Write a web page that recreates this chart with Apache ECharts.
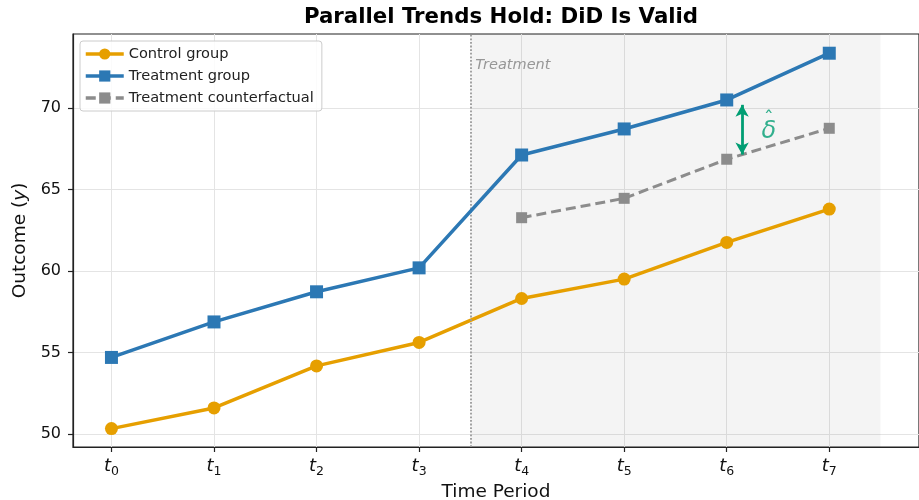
<!DOCTYPE html>
<html>
<head>
<meta charset="utf-8">
<script src="https://cdn.jsdelivr.net/npm/echarts@6/dist/echarts.min.js"></script>
<style>html,body{margin:0;padding:0;background:#fff;}#c{width:919px;height:500px;}</style>
</head>
<body>
<div id="c"></div>
<script>
// ---- data ----
const periods = [0, 1, 2, 3, 4, 5, 6, 7];
const periodSubscripts = ['0', '1', '2', '3', '4', '5', '6', '7'];
const control = [50.33, 51.60, 54.18, 55.62, 58.32, 59.51, 61.76, 63.81];
const treatment = [54.70, 56.88, 58.73, 60.20, 67.13, 68.73, 70.51, 73.38];
const counterfactual = [null, null, null, null, 63.28, 64.47, 66.87, 68.77];
const yTicks = [50, 55, 60, 65, 70];
const treatmentStart = 3.5;
const postEnd = 7.5;
const xRange = [-0.375, 7.875];
const yRange = [49.2, 74.56];
const deltaPeriod = 6;
const deltaOffset = 0.15;

const FONT = 'DejaVu Sans';
const cA = '#E69F00', cB = '#2c78b4', cC = '#8c8c8c', cG = '#009E73';

const ctrlData = periods.map((p, i) => [p, control[i]]);
const trtData = periods.map((p, i) => [p, treatment[i]]);
const cfData = periods.map((p, i) => [p, counterfactual[i]]).filter(d => d[1] !== null);

// arrow for delta
const di = periods.indexOf(deltaPeriod);
const arrowX = deltaPeriod + deltaOffset;
const arrowBottom = counterfactual[di] + deltaOffset * (counterfactual[di + 1] - counterfactual[di]);
const arrowTop = treatment[di] - 0.3;

const chart = echarts.init(document.getElementById('c'), null, {renderer: 'canvas'});
chart.setOption({
  animation: false,
  backgroundColor: '#fff',
  textStyle: {fontFamily: FONT},
  title: {
    text: 'Parallel Trends Hold: DiD Is Valid',
    left: 496, textAlign: 'center', top: 2,
    textStyle: {fontFamily: FONT, fontWeight: 'bold', fontSize: 21.3, color: '#000'}
  },
  legend: {
    orient: 'vertical', left: 80, top: 41,
    padding: [5, 8, 5, 4],
    itemWidth: 38, itemHeight: 14, itemGap: 6,
    backgroundColor: 'rgba(255,255,255,0.85)',
    borderColor: '#cccccc', borderWidth: 1, borderRadius: 3,
    lineStyle: {width: 3.5},
    textStyle: {fontFamily: FONT, fontSize: 14.6, color: '#222', lineHeight: 16},
    data: ['Control group', 'Treatment group', 'Treatment counterfactual']
  },
  grid: {left: 73, top: 34, width: 846, bottom: 53, outerBoundsMode: 'none', containLabel: false,
         show: true, borderColor: '#222', borderWidth: 1.2, backgroundColor: 'transparent'},
  xAxis: {
    type: 'value', min: xRange[0], max: xRange[1],
    axisLine: {show: true, onZero: false, lineStyle: {color: '#222', width: 1.2}},
    axisTick: {show: true, customValues: periods, length: 5, lineStyle: {color: '#222', width: 1.2}},
    axisLabel: {
      customValues: periods, margin: 8, color: '#111',
      formatter: function (v) {
        const i = periods.indexOf(Math.round(v));
        return '{t|t}{s|' + periodSubscripts[i] + '}';
      },
      rich: {
        t: {fontFamily: FONT, fontStyle: 'italic', fontSize: 18, color: '#111'},
        s: {fontFamily: FONT, fontSize: 12.5, color: '#111', padding: [10, 0, 0, 0]}
      }
    },
    splitLine: {show: true, lineStyle: {color: '#e4e4e4', width: 1}},
    name: 'Time Period', nameLocation: 'middle', nameGap: 30,
    nameTextStyle: {fontFamily: FONT, fontSize: 18.5, color: '#111'}
  },
  yAxis: {
    type: 'value', min: yRange[0], max: yRange[1],
    axisLine: {show: true, onZero: false, lineStyle: {color: '#222', width: 1.2}},
    axisTick: {show: true, customValues: yTicks, length: 5, lineStyle: {color: '#222', width: 1.2}},
    axisLabel: {customValues: yTicks, margin: 12, fontFamily: FONT, fontSize: 16, color: '#111'},
    splitLine: {show: true, lineStyle: {color: '#e4e4e4', width: 1}},
    name: '{a|Outcome (}{b|y}{a|)}', nameLocation: 'middle', nameGap: 40,
    nameTextStyle: {
      rich: {
        a: {fontFamily: FONT, fontSize: 18.5, color: '#111'},
        b: {fontFamily: FONT, fontSize: 18.5, fontStyle: 'italic', color: '#111'}
      }
    }
  },
  series: [
    {
      name: 'Control group', type: 'line', data: ctrlData, z: 4,
      symbol: 'circle', symbolSize: 13,
      lineStyle: {color: cA, width: 3.5}, itemStyle: {color: cA},
      markArea: {
        silent: true,
        itemStyle: {color: 'rgba(0,0,0,0.045)'},
        data: [[{xAxis: treatmentStart}, {xAxis: postEnd}]]
      },
      markLine: {
        silent: true, symbol: 'none',
        lineStyle: {color: '#999', type: 'dotted', width: 1.8},
        label: {show: false},
        data: [{xAxis: treatmentStart}]
      }
    },
    {
      name: 'Treatment group', type: 'line', data: trtData, z: 5,
      symbol: 'rect', symbolSize: 13,
      lineStyle: {color: cB, width: 3.5}, itemStyle: {color: cB}
    },
    {
      name: 'Treatment counterfactual', type: 'line', data: cfData, z: 3,
      symbol: 'rect', symbolSize: 11,
      lineStyle: {color: cC, width: 3, type: [10, 5]}, itemStyle: {color: cC},
      markLine: {
        silent: true, symbol: ['arrow', 'arrow'], symbolSize: [10, 12],
        lineStyle: {color: cG, width: 2.8, type: 'solid'},
        label: {show: false},
        data: [[{coord: [arrowX, arrowBottom]}, {coord: [arrowX, arrowTop]}]]
      }
    },
    {
      type: 'scatter', silent: true, symbolSize: 0, z: 6,
      data: [[arrowX + 0.26, (arrowBottom + arrowTop) / 2 - 0.05]],
      label: {
        show: true, position: 'inside', formatter: '{h|ˆ}\n{d|δ}', align: 'center',
        rich: {
          h: {fontFamily: FONT, fontSize: 20, lineHeight: 3, color: cG, align: 'center'},
          d: {fontFamily: FONT, fontStyle: 'italic', fontSize: 24, lineHeight: 22, color: cG, align: 'center'}
        }
      }
    },
    {
      type: 'scatter', silent: true, symbolSize: 0, z: 6,
      data: [[treatmentStart, yRange[1]]],
      label: {show: true, position: 'right', distance: 5, offset: [0, 31], formatter: 'Treatment', fontFamily: FONT, fontStyle: 'italic', fontSize: 14.5, color: '#808080'}
    }
  ]
});
</script>
</body>
</html>
